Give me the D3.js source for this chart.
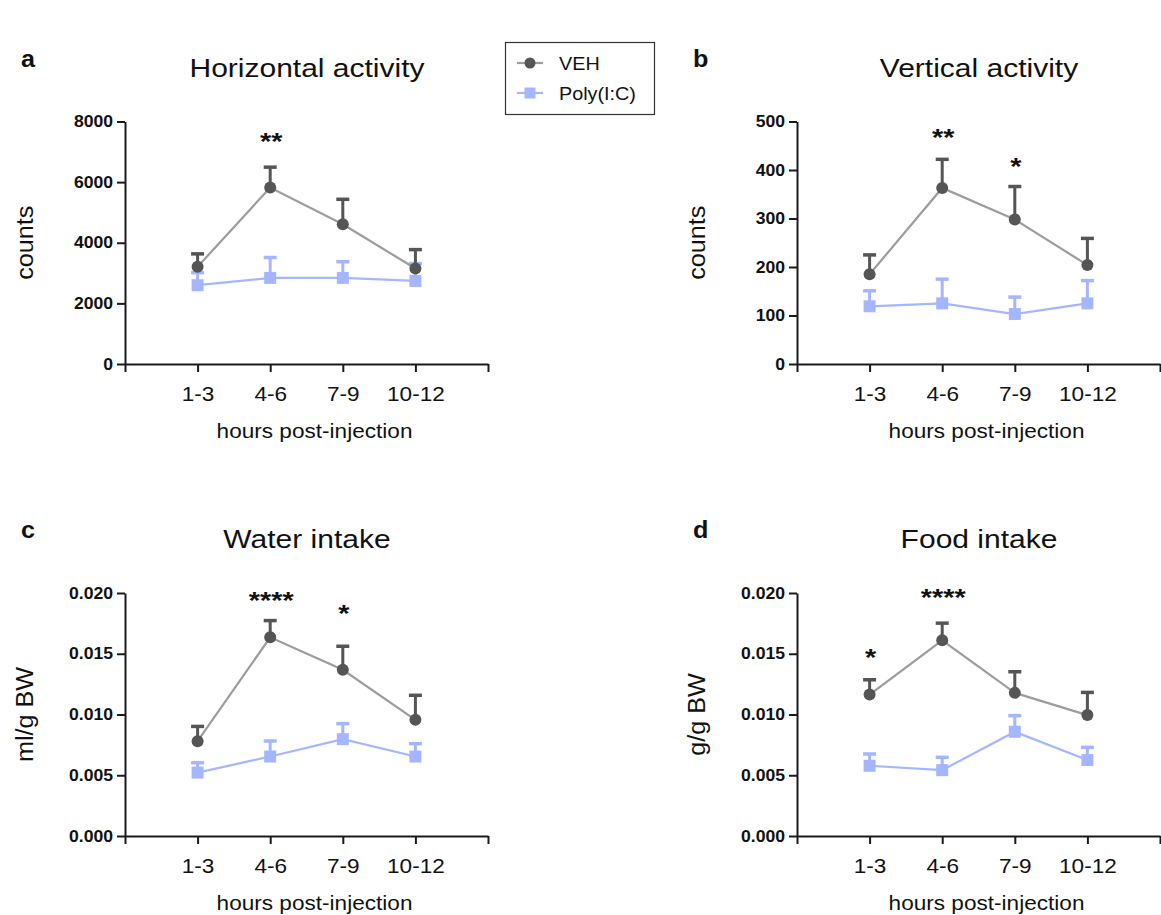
<!DOCTYPE html>
<html>
<head>
<meta charset="utf-8">
<script src="https://cdn.jsdelivr.net/npm/d3@7"></script>
<style>
  html, body { margin: 0; padding: 0; background: #fff; }
  svg { display: block; }
  text { font-family: "Liberation Sans", Arial, Helvetica, sans-serif; fill: #111; }
</style>
</head>
<body>
<svg id="chart" width="1161" height="915"></svg>
<script>
// ---------------- DATA ----------------
const categories = ["1-3", "4-6", "7-9", "10-12"];
const seriesNames = ["VEH", "Poly(I:C)"];

// Horizontal activity (counts)
const horizVeh = [3210, 5820, 4610, 3150];
const horizVehErr = [440, 690, 840, 640];
const horizPoly = [2600, 2840, 2840, 2740];
const horizPolyErr = [430, 690, 550, 590];
const horizTicks = [0, 2000, 4000, 6000, 8000];
const horizStars = [{ i: 1, label: "**", at: 7500 }];

// Vertical activity (counts)
const vertVeh = [185, 363, 298, 204];
const vertVehErr = [41, 60, 69, 56];
const vertPoly = [119, 125, 103, 125];
const vertPolyErr = [33, 51, 36, 48];
const vertTicks = [0, 100, 200, 300, 400, 500];
const vertStars = [{ i: 1, label: "**", at: 476 }, { i: 2, label: "*", at: 417 }];

// Water intake (ml/g BW)
const waterVeh = [0.0078, 0.01635, 0.01368, 0.00956];
const waterVehErr = [0.00126, 0.00142, 0.00198, 0.00206];
const waterPoly = [0.00522, 0.00654, 0.00797, 0.00654];
const waterPolyErr = [0.00085, 0.00132, 0.00132, 0.0011];
const waterTicks = [0, 0.005, 0.010, 0.015, 0.020];
const waterStars = [{ i: 1, label: "****", at: 0.01975 }, { i: 2, label: "*", at: 0.01868 }];

// Food intake (g/g BW)
const foodVeh = [0.01164, 0.01611, 0.01178, 0.00995];
const foodVehErr = [0.00126, 0.00145, 0.00178, 0.00191];
const foodPoly = [0.00578, 0.00542, 0.00858, 0.00625];
const foodPolyErr = [0.00101, 0.0011, 0.00137, 0.00109];
const foodTicks = [0, 0.005, 0.010, 0.015, 0.020];
const foodStars = [{ i: 0, label: "*", at: 0.01504 }, { i: 1, label: "****", at: 0.01998 }];

// ---------------- STYLE / LAYOUT ----------------
const VEH_MARK = "#555555", VEH_LINE = "#9c9c9c";
const POLY = "#a4b6ff";
const AXIS = "#1a1a1a";

const svg = d3.select("#chart");

const panels = [
  { letter: "a", title: "Horizontal activity", ylabel: "counts",
    veh: horizVeh, vehErr: horizVehErr, poly: horizPoly, polyErr: horizPolyErr,
    ticks: horizTicks, fmt: d3.format("d"), stars: horizStars,
    x0: 125, x1: 488, yTop: 121.5, yBot: 364 },
  { letter: "b", title: "Vertical activity", ylabel: "counts",
    veh: vertVeh, vehErr: vertVehErr, poly: vertPoly, polyErr: vertPolyErr,
    ticks: vertTicks, fmt: d3.format("d"), stars: vertStars,
    x0: 797, x1: 1160, yTop: 121.5, yBot: 364 },
  { letter: "c", title: "Water intake", ylabel: "ml/g BW",
    veh: waterVeh, vehErr: waterVehErr, poly: waterPoly, polyErr: waterPolyErr,
    ticks: waterTicks, fmt: d3.format(".3f"), stars: waterStars,
    x0: 125, x1: 488, yTop: 593, yBot: 836 },
  { letter: "d", title: "Food intake", ylabel: "g/g BW",
    veh: foodVeh, vehErr: foodVehErr, poly: foodPoly, polyErr: foodPolyErr,
    ticks: foodTicks, fmt: d3.format(".3f"), stars: foodStars,
    x0: 797, x1: 1160, yTop: 593, yBot: 836 }
];

function stretchedText(g, x, y, str, size, sx, opts = {}) {
  const t = g.append("text")
    .attr("transform", `translate(${x},${y})${opts.rotate ? ` rotate(${opts.rotate})` : ""} scale(${sx},1)`)
    .attr("font-size", size)
    .attr("text-anchor", opts.anchor || "middle")
    .text(str);
  if (opts.bold) t.attr("font-weight", "bold");
  return t;
}

panels.forEach(p => {
  const g = svg.append("g");
  const x = d3.scaleLinear().domain([0, categories.length + 1]).range([p.x0, p.x1]);
  const y = d3.scaleLinear().domain([0, d3.max(p.ticks)]).range([p.yBot, p.yTop]);
  const cx = i => x(i + 1);

  // Axes
  const yAxis = d3.axisLeft(y).tickValues(p.ticks).tickFormat(p.fmt)
    .tickSize(8).tickSizeOuter(0).tickPadding(4);
  const xAxis = d3.axisBottom(x).tickValues(d3.range(0, categories.length + 2))
    .tickFormat(d => categories[d - 1] || "")
    .tickSize(8).tickSizeOuter(0).tickPadding(15);

  const gy = g.append("g").attr("transform", `translate(${p.x0},0)`).call(yAxis);
  const gx = g.append("g").attr("transform", `translate(0,${p.yBot})`).call(xAxis);
  [gx, gy].forEach(ax => {
    ax.select(".domain").attr("stroke", AXIS).attr("stroke-width", 2);
    ax.selectAll(".tick line").attr("stroke", AXIS).attr("stroke-width", 2);
  });
  const ys = 1.1;
  gy.selectAll(".tick text")
    .attr("font-family", "Liberation Sans, Arial, sans-serif")
    .attr("font-size", 16).attr("font-weight", "bold").attr("fill", "#111")
    .attr("x", -12 / ys).attr("transform", `scale(${ys},1)`);
  const xs = 1.13;
  gx.selectAll(".tick text")
    .attr("font-family", "Liberation Sans, Arial, sans-serif")
    .attr("font-size", 20).attr("fill", "#111")
    .attr("transform", `scale(${xs},1)`);

  // Titles and labels
  const midX = (p.x0 + p.x1) / 2;
  stretchedText(g, midX + 0.5, p.yTop - 45, p.title, 25, 1.2);
  stretchedText(g, p.x0 - 104, p.yTop - 55, p.letter, 24, 1.05, { anchor: "start", bold: true });
  stretchedText(g, midX + 8, p.yBot + 74, "hours post-injection", 20, 1.13);
  stretchedText(g, p.x0 - 92, (p.yTop + p.yBot) / 2, p.ylabel, 24, 1.05, { rotate: -90 });

  // Series: Poly first (underneath), then VEH
  const series = [
    { vals: p.poly, errs: p.polyErr, mark: POLY, line: POLY, shape: "square" },
    { vals: p.veh, errs: p.vehErr, mark: VEH_MARK, line: VEH_LINE, shape: "circle" }
  ];
  series.forEach(s => {
    const line = d3.line().x((d, i) => cx(i)).y(d => y(d));
    g.append("path").datum(s.vals).attr("d", line)
      .attr("fill", "none").attr("stroke", s.line).attr("stroke-width", 2.2);
    // error bars (upper only)
    const eg = g.append("g");
    s.vals.forEach((v, i) => {
      eg.append("line").attr("x1", cx(i)).attr("x2", cx(i))
        .attr("y1", y(v)).attr("y2", y(v + s.errs[i]))
        .attr("stroke", s.mark).attr("stroke-width", 3);
      eg.append("line").attr("x1", cx(i) - 6.5).attr("x2", cx(i) + 6.5)
        .attr("y1", y(v + s.errs[i]) + 0.5).attr("y2", y(v + s.errs[i]) + 0.5)
        .attr("stroke", s.mark).attr("stroke-width", 3.5);
    });
    // markers
    if (s.shape === "circle") {
      g.selectAll(null).data(s.vals).enter().append("circle")
        .attr("cx", (d, i) => cx(i)).attr("cy", d => y(d)).attr("r", 6)
        .attr("fill", s.mark);
    } else {
      g.selectAll(null).data(s.vals).enter().append("rect")
        .attr("x", (d, i) => cx(i) - 6).attr("y", d => y(d) - 6)
        .attr("width", 12).attr("height", 12).attr("fill", s.mark);
    }
  });

  // Significance stars
  p.stars.forEach(st => {
    stretchedText(g, cx(st.i) + 1, y(st.at) + 13, st.label, 24, 1.2, { bold: true });
  });
});

// Legend
const lg = svg.append("g");
lg.append("rect").attr("x", 505.5).attr("y", 42.5).attr("width", 149).attr("height", 72)
  .attr("fill", "#fff").attr("stroke", "#333").attr("stroke-width", 1.2);
const legendItems = [
  { name: seriesNames[0], mark: VEH_MARK, line: VEH_LINE, shape: "circle", cy: 63 },
  { name: seriesNames[1], mark: POLY, line: POLY, shape: "square", cy: 93 }
];
legendItems.forEach(it => {
  lg.append("line").attr("x1", 517).attr("x2", 543).attr("y1", it.cy).attr("y2", it.cy)
    .attr("stroke", it.line).attr("stroke-width", 2.2);
  if (it.shape === "circle") {
    lg.append("circle").attr("cx", 530).attr("cy", it.cy).attr("r", 5.5).attr("fill", it.mark);
  } else {
    lg.append("rect").attr("x", 524.5).attr("y", it.cy - 5.5).attr("width", 11).attr("height", 11).attr("fill", it.mark);
  }
  stretchedText(lg, 559, it.cy + 6.5, it.name, 18, 1.1, { anchor: "start" });
});
</script>
</body>
</html>
